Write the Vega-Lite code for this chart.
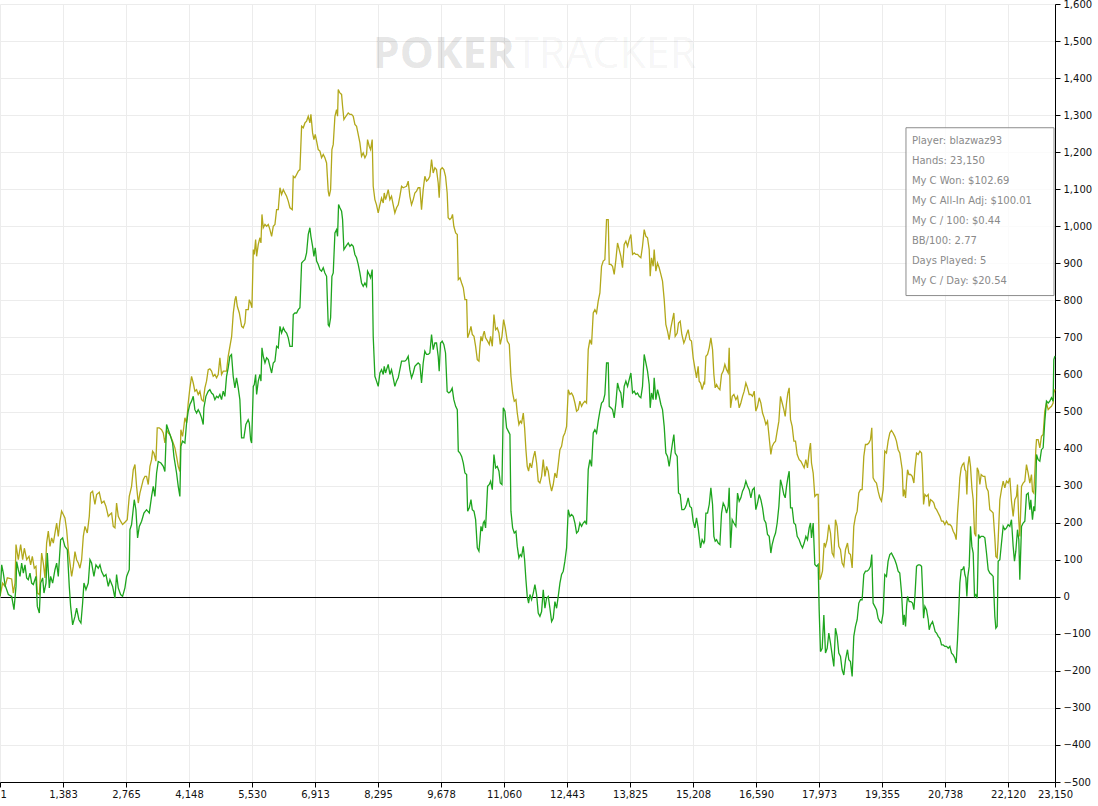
{
  "$schema": "https://vega.github.io/schema/vega-lite/v6.json",
  "width": 1055,
  "height": 778,
  "autosize": "none",
  "padding": {"left": 0, "top": 4, "right": 43, "bottom": 24},
  "background": "white",
  "config": {
    "view": {"stroke": null},
    "axis": {"labelFont": "DejaVu Sans", "labelFontSize": 10, "labelColor": "#111", "domainColor": "#000", "tickColor": "#000", "tickSize": 5, "gridColor": "#ececec", "title": null}
  },
  "datasets": {
    "won": [
      {"h":1,"v":1},{"h":38,"v":86},{"h":74,"v":64},{"h":111,"v":32},{"h":184,"v":6},{"h":257,"v":1},{"h":308,"v":-35},{"h":352,"v":28},{"h":367,"v":95},{"h":403,"v":73},{"h":440,"v":55},{"h":476,"v":91},{"h":513,"v":64},{"h":549,"v":86},{"h":586,"v":51},{"h":622,"v":46},{"h":659,"v":64},{"h":695,"v":37},{"h":732,"v":33},{"h":790,"v":55},{"h":820,"v":-26},{"h":864,"v":-44},{"h":893,"v":37},{"h":937,"v":51},{"h":966,"v":10},{"h":1010,"v":37},{"h":1039,"v":118},{"h":1083,"v":24},{"h":1112,"v":55},{"h":1156,"v":37},{"h":1207,"v":73},{"h":1244,"v":91},{"h":1280,"v":55},{"h":1331,"v":154},{"h":1375,"v":159},{"h":1426,"v":136},{"h":1478,"v":127},{"h":1521,"v":28},{"h":1551,"v":-26},{"h":1595,"v":-76},{"h":1646,"v":-53},{"h":1682,"v":-31},{"h":1733,"v":-62},{"h":1777,"v":-71},{"h":1814,"v":-17},{"h":1843,"v":37},{"h":1887,"v":19},{"h":1938,"v":37},{"h":1975,"v":100},{"h":2011,"v":91},{"h":2062,"v":55},{"h":2106,"v":86},{"h":2157,"v":77},{"h":2194,"v":86},{"h":2231,"v":68},{"h":2282,"v":55},{"h":2326,"v":60},{"h":2377,"v":28},{"h":2413,"v":46},{"h":2472,"v":28},{"h":2523,"v":-4},{"h":2559,"v":60},{"h":2596,"v":24},{"h":2647,"v":6},{"h":2691,"v":1},{"h":2742,"v":24},{"h":2779,"v":55},{"h":2837,"v":73},{"h":2852,"v":181},{"h":2888,"v":195},{"h":2947,"v":262},{"h":2983,"v":235},{"h":3020,"v":159},{"h":3057,"v":190},{"h":3108,"v":204},{"h":3159,"v":226},{"h":3217,"v":235},{"h":3276,"v":226},{"h":3327,"v":271},{"h":3364,"v":298},{"h":3400,"v":271},{"h":3437,"v":334},{"h":3473,"v":365},{"h":3532,"v":361},{"h":3583,"v":352},{"h":3619,"v":338},{"h":3656,"v":465},{"h":3693,"v":451},{"h":3744,"v":433},{"h":3788,"v":415},{"h":3817,"v":379},{"h":3875,"v":334},{"h":3912,"v":298},{"h":3948,"v":271},{"h":3970,"v":406},{"h":4007,"v":420},{"h":4058,"v":415},{"h":4095,"v":469},{"h":4131,"v":501},{"h":4168,"v":519},{"h":4204,"v":528},{"h":4241,"v":541},{"h":4277,"v":505},{"h":4314,"v":496},{"h":4350,"v":505},{"h":4387,"v":496},{"h":4424,"v":483},{"h":4460,"v":465},{"h":4475,"v":510},{"h":4519,"v":541},{"h":4570,"v":555},{"h":4606,"v":559},{"h":4643,"v":550},{"h":4679,"v":546},{"h":4716,"v":532},{"h":4753,"v":541},{"h":4789,"v":537},{"h":4826,"v":546},{"h":4862,"v":532},{"h":4899,"v":555},{"h":4935,"v":541},{"h":4972,"v":595},{"h":5008,"v":618},{"h":5045,"v":649},{"h":5081,"v":654},{"h":5118,"v":595},{"h":5155,"v":564},{"h":5191,"v":591},{"h":5228,"v":564},{"h":5264,"v":532},{"h":5301,"v":429},{"h":5352,"v":429},{"h":5396,"v":465},{"h":5447,"v":478},
      {"h":5471,"v":469},{"h":5500,"v":424},{"h":5522,"v":415},{"h":5559,"v":568},{"h":5581,"v":573},{"h":5610,"v":600},{"h":5632,"v":546},{"h":5668,"v":582},{"h":5705,"v":600},{"h":5727,"v":582},{"h":5749,"v":672},{"h":5778,"v":649},{"h":5815,"v":631},{"h":5851,"v":645},{"h":5888,"v":640},{"h":5924,"v":622},{"h":5961,"v":604},{"h":5997,"v":631},{"h":6034,"v":636},{"h":6070,"v":676},{"h":6107,"v":672},{"h":6144,"v":730},{"h":6180,"v":712},{"h":6217,"v":726},{"h":6253,"v":717},{"h":6290,"v":712},{"h":6326,"v":699},{"h":6363,"v":676},{"h":6414,"v":676},{"h":6436,"v":762},{"h":6472,"v":766},{"h":6509,"v":766},{"h":6546,"v":775},{"h":6582,"v":780},{"h":6619,"v":901},{"h":6655,"v":906},{"h":6692,"v":910},{"h":6728,"v":928},{"h":6765,"v":978},{"h":6801,"v":996},{"h":6823,"v":973},{"h":6860,"v":946},{"h":6889,"v":919},{"h":6918,"v":942},{"h":6948,"v":906},{"h":6984,"v":897},{"h":7021,"v":883},{"h":7057,"v":879},{"h":7094,"v":888},{"h":7130,"v":874},{"h":7167,"v":865},{"h":7203,"v":734},{"h":7225,"v":730},{"h":7255,"v":753},{"h":7284,"v":865},{"h":7313,"v":874},{"h":7350,"v":982},{"h":7386,"v":991},{"h":7408,"v":973},{"h":7430,"v":1059},{"h":7459,"v":1050},{"h":7496,"v":1041},{"h":7518,"v":1018},{"h":7547,"v":937},{"h":7591,"v":946},{"h":7642,"v":955},{"h":7679,"v":946},{"h":7715,"v":951},{"h":7752,"v":946},{"h":7788,"v":924},{"h":7825,"v":915},{"h":7861,"v":897},{"h":7898,"v":874},{"h":7934,"v":847},{"h":7971,"v":838},{"h":8008,"v":847},{"h":8044,"v":838},{"h":8066,"v":879},{"h":8103,"v":870},{"h":8132,"v":861},{"h":8168,"v":883},{"h":8190,"v":703},{"h":8227,"v":595},{"h":8263,"v":582},{"h":8300,"v":568},{"h":8337,"v":604},{"h":8373,"v":613},{"h":8410,"v":600},{"h":8432,"v":622},{"h":8461,"v":604},{"h":8483,"v":613},{"h":8519,"v":627},{"h":8556,"v":600},{"h":8592,"v":613},{"h":8629,"v":591},{"h":8665,"v":568},{"h":8702,"v":582},{"h":8739,"v":591},{"h":8775,"v":613},{"h":8812,"v":636},{"h":8848,"v":636},{"h":8885,"v":636},{"h":8921,"v":640},{"h":8958,"v":649},{"h":8994,"v":613},{"h":9031,"v":591},{"h":9068,"v":604},{"h":9104,"v":622},{"h":9141,"v":627},{"h":9177,"v":631},{"h":9214,"v":627},{"h":9250,"v":577},{"h":9287,"v":631},{"h":9323,"v":663},{"h":9360,"v":654},{"h":9396,"v":654},{"h":9433,"v":658},{"h":9470,"v":708},{"h":9506,"v":667},{"h":9543,"v":685},{"h":9579,"v":685},{"h":9616,"v":649},{"h":9638,"v":609},{"h":9667,"v":685},{"h":9704,"v":690},{"h":9740,"v":681},{"h":9777,"v":658},{"h":9813,"v":554},{"h":9850,"v":550},{"h":9886,"v":554},{"h":9923,"v":563},{"h":9959,"v":532},
      {"h":9999,"v":514},{"h":10035,"v":505},{"h":10057,"v":393},{"h":10094,"v":388},{"h":10130,"v":379},{"h":10167,"v":361},{"h":10203,"v":334},{"h":10240,"v":330},{"h":10262,"v":231},{"h":10298,"v":240},{"h":10335,"v":262},{"h":10364,"v":235},{"h":10401,"v":231},{"h":10437,"v":208},{"h":10474,"v":132},{"h":10510,"v":123},{"h":10532,"v":154},{"h":10554,"v":190},{"h":10583,"v":177},{"h":10605,"v":199},{"h":10627,"v":204},{"h":10656,"v":186},{"h":10700,"v":298},{"h":10737,"v":303},{"h":10766,"v":312},{"h":10803,"v":289},{"h":10839,"v":384},{"h":10876,"v":348},{"h":10912,"v":352},{"h":10949,"v":339},{"h":10978,"v":307},{"h":11015,"v":303},{"h":11044,"v":510},{"h":11080,"v":501},{"h":11117,"v":456},{"h":11154,"v":447},{"h":11190,"v":438},{"h":11212,"v":231},{"h":11249,"v":186},{"h":11285,"v":172},{"h":11322,"v":177},{"h":11351,"v":136},{"h":11387,"v":105},{"h":11417,"v":114},{"h":11446,"v":109},{"h":11483,"v":136},{"h":11512,"v":100},{"h":11541,"v":46},{"h":11570,"v":1},{"h":11599,"v":-17},{"h":11629,"v":6},{"h":11665,"v":-8},{"h":11702,"v":10},{"h":11738,"v":33},{"h":11775,"v":6},{"h":11811,"v":-44},{"h":11848,"v":-53},{"h":11885,"v":-40},{"h":11921,"v":19},{"h":11958,"v":-31},{"h":11994,"v":-4},{"h":12031,"v":1},{"h":12067,"v":-31},{"h":12104,"v":-67},{"h":12140,"v":-58},{"h":12177,"v":-13},{"h":12214,"v":-31},{"h":12250,"v":1},{"h":12287,"v":37},{"h":12323,"v":60},{"h":12360,"v":69},{"h":12396,"v":96},{"h":12433,"v":132},{"h":12469,"v":235},{"h":12506,"v":217},{"h":12542,"v":222},{"h":12579,"v":217},{"h":12616,"v":199},{"h":12652,"v":172},{"h":12689,"v":177},{"h":12725,"v":199},{"h":12762,"v":190},{"h":12798,"v":199},{"h":12835,"v":204},{"h":12871,"v":195},{"h":12908,"v":343},{"h":12945,"v":370},{"h":12981,"v":352},{"h":13018,"v":442},{"h":13054,"v":451},{"h":13091,"v":442},{"h":13127,"v":474},{"h":13164,"v":501},{"h":13200,"v":523},{"h":13237,"v":528},{"h":13273,"v":546},{"h":13310,"v":631},{"h":13347,"v":631},{"h":13369,"v":514},{"h":13405,"v":510},{"h":13442,"v":505},{"h":13478,"v":483},{"h":13515,"v":523},{"h":13551,"v":577},{"h":13588,"v":559},{"h":13624,"v":550},{"h":13661,"v":510},{"h":13697,"v":568},{"h":13734,"v":582},{"h":13771,"v":568},{"h":13807,"v":586},{"h":13844,"v":604},{"h":13880,"v":550},{"h":13917,"v":555},{"h":13953,"v":546},{"h":13990,"v":550},{"h":14026,"v":541},{"h":14063,"v":537},{"h":14099,"v":568},{"h":14136,"v":654},{"h":14173,"v":631},{"h":14209,"v":609},{"h":14246,"v":573},{"h":14268,"v":510},{"h":14297,"v":550},{"h":14333,"v":532},{"h":14355,"v":591},{"h":14392,"v":532},{"h":14428,"v":559},{"h":14465,"v":541},{"h":14502,"v":519},{"h":14538,"v":505},{"h":14575,"v":460},{"h":14611,"v":388},{"h":14648,"v":379},{"h":14684,"v":352},{"h":14721,"v":384},{"h":14757,"v":415},{"h":14787,"v":438},{"h":14816,"v":388},{"h":14860,"v":379},{"h":14889,"v":280},{"h":14926,"v":276},{"h":14962,"v":235},{"h":15006,"v":235},{"h":15035,"v":240},{"h":15064,"v":249},{"h":15101,"v":267},{"h":15138,"v":244},{"h":15174,"v":240},{"h":15211,"v":204},{"h":15247,"v":186},{"h":15284,"v":213},{"h":15320,"v":186},{"h":15342,"v":163},{"h":15372,"v":132},{"h":15408,"v":154},{"h":15445,"v":145},
      {"h":15461,"v":150},{"h":15490,"v":226},{"h":15526,"v":226},{"h":15563,"v":249},{"h":15599,"v":294},{"h":15636,"v":249},{"h":15665,"v":163},{"h":15694,"v":150},{"h":15724,"v":154},{"h":15760,"v":145},{"h":15797,"v":141},{"h":15833,"v":226},{"h":15870,"v":253},{"h":15906,"v":244},{"h":15943,"v":226},{"h":15980,"v":244},{"h":16001,"v":294},{"h":16031,"v":132},{"h":16067,"v":208},{"h":16104,"v":199},{"h":16148,"v":190},{"h":16184,"v":280},{"h":16221,"v":258},{"h":16257,"v":267},{"h":16294,"v":285},{"h":16330,"v":294},{"h":16367,"v":312},{"h":16404,"v":298},{"h":16440,"v":289},{"h":16477,"v":267},{"h":16513,"v":289},{"h":16550,"v":294},{"h":16586,"v":235},{"h":16623,"v":253},{"h":16659,"v":276},{"h":16696,"v":262},{"h":16733,"v":240},{"h":16769,"v":208},{"h":16806,"v":199},{"h":16842,"v":168},{"h":16879,"v":163},{"h":16915,"v":118},{"h":16944,"v":141},{"h":16981,"v":159},{"h":17018,"v":172},{"h":17054,"v":199},{"h":17091,"v":244},{"h":17127,"v":316},{"h":17164,"v":298},{"h":17200,"v":276},{"h":17230,"v":267},{"h":17259,"v":298},{"h":17288,"v":321},{"h":17317,"v":339},{"h":17347,"v":240},{"h":17383,"v":240},{"h":17420,"v":199},{"h":17456,"v":195},{"h":17493,"v":163},{"h":17537,"v":154},{"h":17573,"v":141},{"h":17610,"v":132},{"h":17646,"v":145},{"h":17683,"v":163},{"h":17719,"v":154},{"h":17756,"v":186},{"h":17785,"v":199},{"h":17807,"v":159},{"h":17844,"v":199},{"h":17880,"v":87},{"h":17917,"v":82},{"h":17953,"v":87},{"h":17975,"v":-35},{"h":18004,"v":-148},{"h":18041,"v":-139},{"h":18078,"v":-49},{"h":18114,"v":-152},{"h":18151,"v":-139},{"h":18187,"v":-98},{"h":18224,"v":-125},{"h":18260,"v":-157},{"h":18297,"v":-188},{"h":18333,"v":-85},{"h":18370,"v":-107},{"h":18406,"v":-152},{"h":18443,"v":-161},{"h":18479,"v":-197},{"h":18516,"v":-211},{"h":18553,"v":-170},{"h":18597,"v":-143},{"h":18626,"v":-170},{"h":18662,"v":-175},{"h":18699,"v":-215},{"h":18735,"v":-107},{"h":18772,"v":-80},{"h":18809,"v":-62},{"h":18845,"v":-17},{"h":18882,"v":-8},{"h":18918,"v":-8},{"h":18955,"v":60},{"h":18991,"v":69},{"h":19028,"v":69},{"h":19064,"v":73},{"h":19101,"v":82},{"h":19130,"v":114},{"h":19159,"v":-17},{"h":19196,"v":-26},{"h":19233,"v":-35},{"h":19269,"v":-58},{"h":19306,"v":-67},{"h":19342,"v":-71},{"h":19379,"v":-44},{"h":19415,"v":60},{"h":19452,"v":55},{"h":19488,"v":96},{"h":19525,"v":114},{"h":19561,"v":118},{"h":19598,"v":109},{"h":19635,"v":100},{"h":19671,"v":87},{"h":19708,"v":69},{"h":19744,"v":64},
      {"h":19783,"v":10},{"h":19820,"v":-76},{"h":19842,"v":-49},{"h":19871,"v":-80},{"h":19893,"v":-26},{"h":19915,"v":1},{"h":19951,"v":-13},{"h":19988,"v":-13},{"h":20024,"v":-17},{"h":20054,"v":-35},{"h":20076,"v":1},{"h":20112,"v":82},{"h":20149,"v":86},{"h":20185,"v":86},{"h":20222,"v":82},{"h":20244,"v":19},{"h":20266,"v":-58},{"h":20295,"v":-26},{"h":20331,"v":-35},{"h":20368,"v":-62},{"h":20390,"v":-89},{"h":20419,"v":-76},{"h":20463,"v":-67},{"h":20492,"v":-80},{"h":20521,"v":-94},{"h":20551,"v":-98},{"h":20587,"v":-107},{"h":20624,"v":-112},{"h":20660,"v":-130},{"h":20697,"v":-130},{"h":20733,"v":-134},{"h":20770,"v":-134},{"h":20807,"v":-139},{"h":20843,"v":-134},{"h":20880,"v":-152},{"h":20916,"v":-157},{"h":20953,"v":-166},{"h":20982,"v":-179},{"h":21011,"v":-116},{"h":21040,"v":-35},{"h":21062,"v":37},{"h":21092,"v":73},{"h":21121,"v":73},{"h":21150,"v":82},{"h":21172,"v":60},{"h":21194,"v":51},{"h":21216,"v":1},{"h":21238,"v":55},{"h":21267,"v":82},{"h":21296,"v":190},{"h":21326,"v":136},{"h":21355,"v":118},{"h":21384,"v":1},{"h":21413,"v":6},{"h":21443,"v":-4},{"h":21472,"v":168},{"h":21501,"v":159},{"h":21530,"v":163},{"h":21574,"v":163},{"h":21611,"v":159},{"h":21647,"v":118},{"h":21684,"v":73},{"h":21720,"v":64},{"h":21757,"v":60},{"h":21793,"v":55},{"h":21830,"v":-53},{"h":21852,"v":-85},{"h":21881,"v":-80},{"h":21903,"v":96},{"h":21940,"v":100},{"h":21976,"v":145},{"h":22013,"v":190},{"h":22049,"v":181},{"h":22086,"v":186},{"h":22122,"v":195},{"h":22159,"v":190},{"h":22195,"v":208},{"h":22232,"v":136},{"h":22261,"v":96},{"h":22290,"v":123},{"h":22327,"v":181},{"h":22356,"v":154},{"h":22378,"v":46},{"h":22415,"v":190},{"h":22451,"v":199},{"h":22488,"v":204},{"h":22524,"v":276},{"h":22561,"v":280},{"h":22598,"v":235},{"h":22619,"v":262},{"h":22656,"v":208},{"h":22685,"v":244},{"h":22707,"v":231},{"h":22729,"v":298},{"h":22744,"v":384},{"h":22780,"v":370},{"h":22817,"v":366},{"h":22853,"v":397},{"h":22890,"v":402},{"h":22926,"v":474},{"h":22963,"v":528},{"h":23000,"v":523},{"h":23036,"v":528},{"h":23073,"v":537},{"h":23109,"v":528},{"h":23124,"v":640},{"h":23150,"v":650}
    ],
    "adj": [
      {"h":1,"v":1},{"h":59,"v":37},{"h":111,"v":28},{"h":162,"v":51},{"h":257,"v":48},{"h":293,"v":10},{"h":330,"v":37},{"h":352,"v":141},{"h":403,"v":100},{"h":454,"v":141},{"h":498,"v":100},{"h":535,"v":131},{"h":586,"v":100},{"h":637,"v":109},{"h":673,"v":86},{"h":710,"v":109},{"h":754,"v":77},{"h":790,"v":82},{"h":820,"v":10},{"h":864,"v":6},{"h":915,"v":118},{"h":951,"v":91},{"h":988,"v":51},{"h":1024,"v":145},{"h":1061,"v":177},{"h":1098,"v":136},{"h":1134,"v":159},{"h":1171,"v":145},{"h":1207,"v":172},{"h":1244,"v":199},{"h":1280,"v":163},{"h":1317,"v":204},{"h":1353,"v":231},{"h":1390,"v":222},{"h":1426,"v":213},{"h":1463,"v":181},{"h":1500,"v":127},{"h":1536,"v":91},{"h":1573,"v":55},{"h":1609,"v":82},{"h":1646,"v":122},{"h":1682,"v":100},{"h":1719,"v":91},{"h":1755,"v":77},{"h":1792,"v":100},{"h":1829,"v":163},{"h":1865,"v":190},{"h":1916,"v":172},{"h":1960,"v":217},{"h":1989,"v":280},{"h":2033,"v":285},{"h":2084,"v":249},{"h":2121,"v":276},{"h":2179,"v":282},{"h":2231,"v":253},{"h":2282,"v":258},{"h":2326,"v":244},{"h":2377,"v":217},{"h":2413,"v":222},{"h":2450,"v":226},{"h":2486,"v":190},{"h":2523,"v":186},{"h":2559,"v":253},{"h":2596,"v":217},{"h":2647,"v":204},{"h":2691,"v":195},{"h":2742,"v":201},{"h":2793,"v":208},{"h":2837,"v":271},{"h":2888,"v":298},{"h":2925,"v":343},{"h":2962,"v":357},{"h":2998,"v":298},{"h":3035,"v":253},{"h":3071,"v":280},{"h":3108,"v":298},{"h":3144,"v":316},{"h":3181,"v":325},{"h":3217,"v":325},{"h":3254,"v":303},{"h":3291,"v":352},{"h":3327,"v":370},{"h":3349,"v":393},{"h":3378,"v":388},{"h":3422,"v":366},{"h":3451,"v":456},{"h":3495,"v":456},{"h":3546,"v":451},{"h":3583,"v":442},{"h":3619,"v":415},{"h":3656,"v":451},{"h":3693,"v":442},{"h":3729,"v":438},{"h":3788,"v":420},{"h":3839,"v":402},{"h":3875,"v":379},{"h":3912,"v":352},{"h":3948,"v":338},{"h":3970,"v":451},{"h":4007,"v":433},{"h":4036,"v":460},{"h":4058,"v":483},{"h":4095,"v":469},{"h":4131,"v":523},{"h":4168,"v":564},{"h":4204,"v":595},{"h":4241,"v":577},{"h":4277,"v":555},{"h":4314,"v":559},{"h":4350,"v":546},{"h":4387,"v":555},{"h":4424,"v":532},{"h":4460,"v":528},{"h":4497,"v":564},{"h":4533,"v":582},{"h":4570,"v":613},{"h":4606,"v":615},{"h":4643,"v":609},{"h":4679,"v":595},{"h":4716,"v":600},{"h":4753,"v":591},{"h":4789,"v":600},{"h":4826,"v":645},{"h":4862,"v":600},{"h":4899,"v":609},{"h":4935,"v":609},{"h":4972,"v":609},{"h":5008,"v":649},
      {"h":5084,"v":703},{"h":5120,"v":766},{"h":5157,"v":802},{"h":5179,"v":811},{"h":5208,"v":784},{"h":5252,"v":766},{"h":5303,"v":730},{"h":5339,"v":726},{"h":5376,"v":739},{"h":5398,"v":775},{"h":5449,"v":775},{"h":5471,"v":802},{"h":5500,"v":793},{"h":5529,"v":780},{"h":5559,"v":937},{"h":5581,"v":924},{"h":5610,"v":964},{"h":5632,"v":919},{"h":5668,"v":951},{"h":5705,"v":969},{"h":5727,"v":955},{"h":5749,"v":1032},{"h":5778,"v":996},{"h":5815,"v":1005},{"h":5851,"v":1000},{"h":5888,"v":1005},{"h":5924,"v":991},{"h":5961,"v":973},{"h":5997,"v":1000},{"h":6034,"v":1005},{"h":6070,"v":1045},{"h":6107,"v":1045},{"h":6144,"v":1104},{"h":6180,"v":1086},{"h":6217,"v":1099},{"h":6253,"v":1090},{"h":6290,"v":1081},{"h":6326,"v":1068},{"h":6363,"v":1050},{"h":6414,"v":1045},{"h":6436,"v":1135},{"h":6472,"v":1131},{"h":6509,"v":1140},{"h":6546,"v":1149},{"h":6582,"v":1153},{"h":6619,"v":1270},{"h":6655,"v":1266},{"h":6692,"v":1279},{"h":6728,"v":1284},{"h":6765,"v":1297},{"h":6801,"v":1279},{"h":6823,"v":1302},{"h":6860,"v":1252},{"h":6889,"v":1234},{"h":6918,"v":1248},{"h":6948,"v":1230},{"h":6984,"v":1207},{"h":7021,"v":1203},{"h":7057,"v":1185},{"h":7094,"v":1194},{"h":7130,"v":1185},{"h":7167,"v":1171},{"h":7203,"v":1095},{"h":7225,"v":1081},{"h":7255,"v":1099},{"h":7284,"v":1207},{"h":7313,"v":1221},{"h":7350,"v":1297},{"h":7386,"v":1315},{"h":7408,"v":1297},{"h":7423,"v":1369},{"h":7459,"v":1360},{"h":7496,"v":1356},{"h":7518,"v":1324},{"h":7547,"v":1288},{"h":7591,"v":1297},{"h":7642,"v":1306},{"h":7679,"v":1302},{"h":7715,"v":1302},{"h":7752,"v":1297},{"h":7788,"v":1275},{"h":7825,"v":1270},{"h":7861,"v":1248},{"h":7898,"v":1225},{"h":7934,"v":1189},{"h":7971,"v":1198},{"h":8008,"v":1185},{"h":8044,"v":1194},{"h":8066,"v":1234},{"h":8103,"v":1216},{"h":8132,"v":1207},{"h":8168,"v":1234},{"h":8190,"v":1108},{"h":8227,"v":1072},{"h":8263,"v":1058},{"h":8300,"v":1036},{"h":8337,"v":1058},{"h":8373,"v":1076},{"h":8410,"v":1063},{"h":8432,"v":1090},{"h":8461,"v":1072},{"h":8483,"v":1081},{"h":8519,"v":1099},{"h":8556,"v":1072},{"h":8592,"v":1081},{"h":8629,"v":1058},{"h":8665,"v":1036},{"h":8702,"v":1050},{"h":8739,"v":1058},{"h":8775,"v":1081},{"h":8812,"v":1108},{"h":8848,"v":1104},{"h":8885,"v":1106},{"h":8921,"v":1108},{"h":8958,"v":1122},{"h":8994,"v":1081},{"h":9031,"v":1058},{"h":9068,"v":1072},{"h":9104,"v":1090},{"h":9141,"v":1095},{"h":9177,"v":1104},{"h":9214,"v":1104},{"h":9250,"v":1045},{"h":9287,"v":1099},{"h":9323,"v":1135},{"h":9360,"v":1122},{"h":9396,"v":1126},{"h":9433,"v":1135},{"h":9470,"v":1180},{"h":9506,"v":1144},{"h":9543,"v":1158},{"h":9579,"v":1153},{"h":9616,"v":1117},{"h":9638,"v":1077},{"h":9667,"v":1153},{"h":9704,"v":1158},{"h":9740,"v":1153},{"h":9777,"v":1135},{"h":9813,"v":1090},{"h":9835,"v":1023},{"h":9872,"v":1018},{"h":9908,"v":1023},{"h":9930,"v":1032},{"h":9959,"v":1000},
      {"h":9999,"v":982},{"h":10035,"v":978},{"h":10057,"v":856},{"h":10094,"v":861},{"h":10130,"v":847},{"h":10167,"v":834},{"h":10203,"v":802},{"h":10240,"v":802},{"h":10262,"v":699},{"h":10298,"v":712},{"h":10335,"v":730},{"h":10364,"v":708},{"h":10401,"v":703},{"h":10437,"v":676},{"h":10474,"v":640},{"h":10510,"v":636},{"h":10532,"v":676},{"h":10554,"v":703},{"h":10583,"v":690},{"h":10605,"v":708},{"h":10627,"v":717},{"h":10656,"v":699},{"h":10700,"v":690},{"h":10737,"v":681},{"h":10766,"v":703},{"h":10803,"v":676},{"h":10839,"v":762},{"h":10876,"v":721},{"h":10912,"v":726},{"h":10949,"v":712},{"h":10978,"v":681},{"h":11015,"v":703},{"h":11051,"v":748},{"h":11088,"v":726},{"h":11132,"v":690},{"h":11176,"v":681},{"h":11212,"v":595},{"h":11249,"v":550},{"h":11285,"v":528},{"h":11322,"v":532},{"h":11351,"v":496},{"h":11387,"v":465},{"h":11417,"v":474},{"h":11446,"v":469},{"h":11483,"v":496},{"h":11512,"v":456},{"h":11541,"v":397},{"h":11570,"v":352},{"h":11599,"v":339},{"h":11629,"v":361},{"h":11665,"v":348},{"h":11702,"v":375},{"h":11738,"v":393},{"h":11775,"v":361},{"h":11811,"v":312},{"h":11848,"v":307},{"h":11885,"v":325},{"h":11921,"v":370},{"h":11958,"v":325},{"h":11994,"v":352},{"h":12031,"v":339},{"h":12067,"v":307},{"h":12104,"v":285},{"h":12140,"v":303},{"h":12177,"v":334},{"h":12214,"v":321},{"h":12250,"v":357},{"h":12287,"v":397},{"h":12323,"v":406},{"h":12360,"v":433},{"h":12396,"v":442},{"h":12433,"v":460},{"h":12469,"v":559},{"h":12506,"v":546},{"h":12542,"v":550},{"h":12579,"v":541},{"h":12616,"v":523},{"h":12652,"v":501},{"h":12689,"v":505},{"h":12725,"v":528},{"h":12762,"v":514},{"h":12798,"v":523},{"h":12835,"v":528},{"h":12871,"v":523},{"h":12908,"v":667},{"h":12945,"v":694},{"h":12981,"v":681},{"h":13018,"v":766},{"h":13054,"v":775},{"h":13091,"v":766},{"h":13127,"v":798},{"h":13164,"v":820},{"h":13200,"v":892},{"h":13237,"v":906},{"h":13273,"v":910},{"h":13310,"v":1018},{"h":13347,"v":1018},{"h":13369,"v":897},{"h":13405,"v":897},{"h":13442,"v":892},{"h":13478,"v":870},{"h":13515,"v":910},{"h":13551,"v":955},{"h":13588,"v":937},{"h":13624,"v":919},{"h":13661,"v":888},{"h":13697,"v":951},{"h":13734,"v":960},{"h":13771,"v":946},{"h":13807,"v":964},{"h":13844,"v":978},{"h":13880,"v":924},{"h":13917,"v":928},{"h":13953,"v":924},{"h":13990,"v":924},{"h":14026,"v":919},{"h":14063,"v":915},{"h":14099,"v":946},{"h":14136,"v":991},{"h":14173,"v":973},{"h":14209,"v":969},{"h":14246,"v":937},{"h":14268,"v":865},{"h":14297,"v":915},{"h":14333,"v":892},{"h":14355,"v":937},{"h":14392,"v":879},{"h":14428,"v":901},{"h":14465,"v":888},{"h":14502,"v":870},{"h":14538,"v":852},{"h":14575,"v":802},{"h":14611,"v":735},{"h":14648,"v":717},{"h":14684,"v":694},{"h":14721,"v":726},{"h":14757,"v":748},{"h":14787,"v":766},{"h":14816,"v":703},{"h":14860,"v":712},{"h":14889,"v":739},{"h":14926,"v":744},{"h":14962,"v":708},{"h":15006,"v":685},{"h":15035,"v":694},{"h":15064,"v":708},{"h":15101,"v":721},{"h":15138,"v":694},{"h":15174,"v":690},{"h":15211,"v":645},{"h":15247,"v":618},{"h":15284,"v":591},{"h":15320,"v":622},{"h":15342,"v":582},{"h":15372,"v":577},{"h":15408,"v":559},{"h":15445,"v":577},
      {"h":15461,"v":573},{"h":15490,"v":649},{"h":15526,"v":654},{"h":15563,"v":672},{"h":15599,"v":699},{"h":15636,"v":667},{"h":15665,"v":600},{"h":15694,"v":564},{"h":15724,"v":573},{"h":15760,"v":564},{"h":15797,"v":559},{"h":15833,"v":600},{"h":15870,"v":609},{"h":15906,"v":627},{"h":15943,"v":613},{"h":15980,"v":604},{"h":16001,"v":672},{"h":16031,"v":510},{"h":16067,"v":541},{"h":16104,"v":546},{"h":16148,"v":532},{"h":16184,"v":541},{"h":16221,"v":510},{"h":16257,"v":523},{"h":16294,"v":541},{"h":16330,"v":555},{"h":16367,"v":577},{"h":16404,"v":564},{"h":16440,"v":546},{"h":16477,"v":546},{"h":16513,"v":541},{"h":16550,"v":555},{"h":16586,"v":501},{"h":16623,"v":514},{"h":16659,"v":537},{"h":16696,"v":523},{"h":16733,"v":496},{"h":16769,"v":483},{"h":16806,"v":465},{"h":16842,"v":474},{"h":16879,"v":429},{"h":16915,"v":384},{"h":16944,"v":406},{"h":16981,"v":415},{"h":17018,"v":420},{"h":17054,"v":447},{"h":17091,"v":474},{"h":17127,"v":541},{"h":17164,"v":523},{"h":17200,"v":505},{"h":17230,"v":487},{"h":17259,"v":523},{"h":17288,"v":550},{"h":17317,"v":564},{"h":17347,"v":478},{"h":17383,"v":460},{"h":17420,"v":420},{"h":17456,"v":420},{"h":17493,"v":384},{"h":17537,"v":370},{"h":17573,"v":366},{"h":17610,"v":357},{"h":17646,"v":348},{"h":17683,"v":370},{"h":17719,"v":348},{"h":17756,"v":393},{"h":17785,"v":415},{"h":17807,"v":361},{"h":17844,"v":334},{"h":17880,"v":271},{"h":17917,"v":276},{"h":17953,"v":276},{"h":17990,"v":46},{"h":18019,"v":55},{"h":18048,"v":69},{"h":18085,"v":145},{"h":18114,"v":136},{"h":18151,"v":154},{"h":18187,"v":195},{"h":18224,"v":172},{"h":18260,"v":118},{"h":18297,"v":109},{"h":18333,"v":208},{"h":18370,"v":190},{"h":18406,"v":136},{"h":18443,"v":127},{"h":18479,"v":91},{"h":18516,"v":82},{"h":18553,"v":127},{"h":18597,"v":145},{"h":18626,"v":118},{"h":18662,"v":114},{"h":18699,"v":78},{"h":18735,"v":190},{"h":18772,"v":217},{"h":18809,"v":231},{"h":18845,"v":280},{"h":18882,"v":289},{"h":18918,"v":289},{"h":18955,"v":379},{"h":18991,"v":411},{"h":19028,"v":411},{"h":19064,"v":415},{"h":19101,"v":424},{"h":19130,"v":456},{"h":19159,"v":321},{"h":19196,"v":312},{"h":19233,"v":307},{"h":19269,"v":285},{"h":19306,"v":267},{"h":19342,"v":258},{"h":19379,"v":289},{"h":19415,"v":393},{"h":19452,"v":388},{"h":19488,"v":420},{"h":19525,"v":442},{"h":19561,"v":449},{"h":19598,"v":442},{"h":19635,"v":433},{"h":19671,"v":420},{"h":19708,"v":397},{"h":19744,"v":388},
      {"h":19798,"v":343},{"h":19820,"v":271},{"h":19842,"v":289},{"h":19871,"v":267},{"h":19893,"v":312},{"h":19915,"v":343},{"h":19944,"v":330},{"h":19981,"v":330},{"h":20017,"v":325},{"h":20054,"v":307},{"h":20076,"v":348},{"h":20112,"v":388},{"h":20149,"v":384},{"h":20185,"v":393},{"h":20222,"v":388},{"h":20244,"v":334},{"h":20266,"v":249},{"h":20295,"v":276},{"h":20331,"v":271},{"h":20368,"v":276},{"h":20390,"v":244},{"h":20419,"v":262},{"h":20463,"v":258},{"h":20492,"v":253},{"h":20521,"v":240},{"h":20551,"v":235},{"h":20587,"v":226},{"h":20624,"v":217},{"h":20660,"v":204},{"h":20697,"v":204},{"h":20733,"v":195},{"h":20770,"v":204},{"h":20807,"v":195},{"h":20843,"v":195},{"h":20880,"v":190},{"h":20916,"v":177},{"h":20953,"v":168},{"h":20982,"v":154},{"h":21011,"v":226},{"h":21040,"v":276},{"h":21062,"v":321},{"h":21092,"v":348},{"h":21121,"v":357},{"h":21150,"v":361},{"h":21172,"v":343},{"h":21194,"v":339},{"h":21216,"v":276},{"h":21238,"v":352},{"h":21267,"v":379},{"h":21296,"v":352},{"h":21326,"v":294},{"h":21355,"v":262},{"h":21384,"v":172},{"h":21413,"v":163},{"h":21443,"v":348},{"h":21472,"v":339},{"h":21501,"v":303},{"h":21530,"v":330},{"h":21574,"v":325},{"h":21611,"v":325},{"h":21647,"v":294},{"h":21684,"v":285},{"h":21720,"v":235},{"h":21757,"v":231},{"h":21793,"v":226},{"h":21830,"v":159},{"h":21852,"v":109},{"h":21881,"v":105},{"h":21903,"v":154},{"h":21940,"v":262},{"h":21976,"v":289},{"h":22013,"v":312},{"h":22049,"v":294},{"h":22086,"v":312},{"h":22122,"v":307},{"h":22159,"v":321},{"h":22195,"v":258},{"h":22232,"v":217},{"h":22269,"v":262},{"h":22305,"v":271},{"h":22327,"v":303},{"h":22356,"v":204},{"h":22378,"v":163},{"h":22415,"v":298},{"h":22451,"v":307},{"h":22488,"v":312},{"h":22524,"v":357},{"h":22561,"v":334},{"h":22598,"v":307},{"h":22634,"v":330},{"h":22656,"v":285},{"h":22685,"v":280},{"h":22707,"v":334},{"h":22729,"v":397},{"h":22744,"v":424},{"h":22780,"v":424},{"h":22817,"v":402},{"h":22853,"v":433},{"h":22890,"v":438},{"h":22926,"v":501},{"h":22963,"v":523},{"h":23000,"v":505},{"h":23036,"v":510},{"h":23073,"v":514},{"h":23109,"v":523},{"h":23124,"v":550},{"h":23150,"v":560}
    ],
    "box": [{"h": 19880, "h2": 23128, "v": 1266, "v2": 813}],
    "boxtext": [
      {"h": 20010, "v": 1231, "t": "Player: blazwaz93"},
      {"h": 20010, "v": 1177, "t": "Hands: 23,150"},
      {"h": 20010, "v": 1123, "t": "My C Won: $102.69"},
      {"h": 20010, "v": 1069, "t": "My C All-In Adj: $100.01"},
      {"h": 20010, "v": 1015, "t": "My C / 100: $0.44"},
      {"h": 20010, "v": 961, "t": "BB/100: 2.77"},
      {"h": 20010, "v": 907, "t": "Days Played: 5"},
      {"h": 20010, "v": 853, "t": "My C / Day: $20.54"}
    ],
    "wm1": [{"h": 11300, "v": 1428, "t": "POKER"}],
    "wm2": [{"h": 11300, "v": 1428, "t": "TRACKER"}]
  },
  "encoding": {
    "x": {
      "field": "h",
      "type": "quantitative",
      "scale": {"domain": [1, 23150], "nice": false, "zero": false},
      "axis": {
        "orient": "bottom",
        "values": [1, 1383, 2765, 4148, 5530, 6913, 8295, 9678, 11060, 12443, 13825, 15208, 16590, 17973, 19355, 20738, 22120, 23150],
        "format": ",d",
        "labelOverlap": false,
        "labelFlush": false,
        "labelPadding": 2,
        "labelAlign": {"condition": {"test": "datum.value <= 1", "value": "left"}, "value": "center"}
      }
    },
    "y": {
      "field": "v",
      "type": "quantitative",
      "scale": {"domain": [-500, 1600], "nice": false, "zero": false},
      "axis": {
        "orient": "right",
        "values": [-500, -400, -300, -200, -100, 0, 100, 200, 300, 400, 500, 600, 700, 800, 900, 1000, 1100, 1200, 1300, 1400, 1500, 1600],
        "format": ",d",
        "labelOverlap": false,
        "labelPadding": 3,
        "gridColor": {"condition": {"test": "datum.value === 0", "value": "#000000"}, "value": "#ececec"}
      }
    }
  },
  "layer": [
    {
      "data": {"name": "wm1"},
      "mark": {"type": "text", "align": "right", "baseline": "alphabetic", "font": "Open Sans", "fontSize": 43, "fontWeight": "bold", "fill": "#000", "fillOpacity": 0.11},
      "encoding": {"text": {"field": "t"}}
    },
    {
      "data": {"name": "wm2"},
      "mark": {"type": "text", "align": "left", "baseline": "alphabetic", "font": "Open Sans", "fontSize": 43, "fill": "#000", "fillOpacity": 0.055},
      "encoding": {"text": {"field": "t"}}
    },
    {
      "data": {"name": "adj"},
      "mark": {"type": "line", "color": "#b2a81a", "strokeWidth": 1.3},
      "encoding": {}
    },
    {
      "data": {"name": "won"},
      "mark": {"type": "line", "color": "#1ea51e", "strokeWidth": 1.3},
      "encoding": {}
    },
    {
      "data": {"name": "box"},
      "mark": {"type": "rect", "fill": "white", "fillOpacity": 0.8, "stroke": "#8c8c8c", "strokeWidth": 1},
      "encoding": {"x2": {"field": "h2"}, "y2": {"field": "v2"}}
    },
    {
      "data": {"name": "boxtext"},
      "mark": {"type": "text", "align": "left", "baseline": "middle", "font": "DejaVu Sans", "fontSize": 10, "fill": "#8a8a8a"},
      "encoding": {"text": {"field": "t"}}
    }
  ]
}
